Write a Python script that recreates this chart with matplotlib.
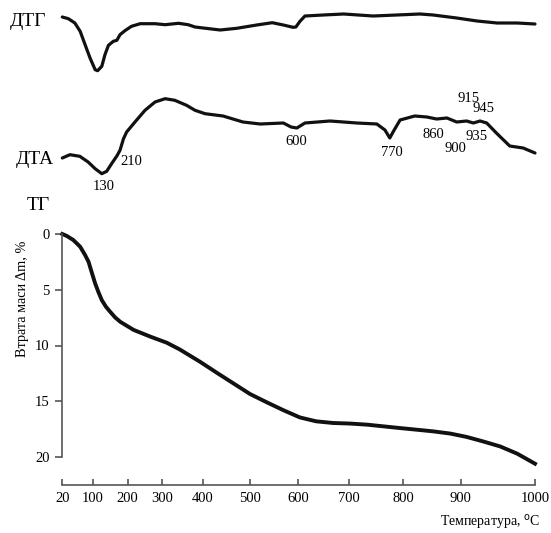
import numpy as np
import matplotlib.pyplot as plt

plt.rcParams['font.family'] = ['Liberation Serif', 'DejaVu Serif']

# temperature ticks of the TG axis
temp_ticks = [20, 100, 200, 300, 400, 500, 600, 700, 800, 900, 1000]

# TG: mass loss, %
tg_temp = [20, 32, 49, 67, 80, 89, 97, 107, 116, 126, 138, 150, 164, 179,
           217, 265, 311, 343, 393, 430, 465, 500, 535, 569, 603, 635, 668,
           701, 733, 763, 793, 823, 852, 882, 908, 930, 953, 976, 1000]
tg_loss = [0, 0.18, 0.54, 1.14, 1.89, 2.49, 3.39, 4.43, 5.18, 5.93, 6.53,
           6.98, 7.48, 7.88, 8.6, 9.2, 9.75, 10.35, 11.45, 12.45, 13.4,
           14.35, 15.1, 15.8, 16.45, 16.8, 16.95, 17.0, 17.1, 17.25, 17.4,
           17.55, 17.7, 17.9, 18.2, 18.6, 19.05, 19.7, 20.6]

# DTG, arbitrary units
dtg_temp = [20, 36, 53, 67, 80, 93, 107, 114, 126, 135, 145, 159, 169, 178,
            192, 211, 236, 279, 307, 340, 364, 381, 401, 437, 472, 514, 546,
            569, 589, 595, 603, 613, 649, 689, 744, 788, 829, 852, 893, 922,
            949, 976, 1000]
dtg_signal = [7, 5.3, 1, -7.3, -20.7, -34, -45.7, -46.7, -42.3, -30.7, -21.3,
              -17.3, -16.3, -10.7, -6.7, -2.3, 0.3, 0.3, -0.7, 0.7, -0.7, -3,
              -4, -6, -4.3, -1, 1.3, -1, -3.3, -3, 2.5, 8, 9, 10, 8, 9, 10, 9,
              6, 3, 1, 1, 0]

# DTA, arbitrary units
dta_temp = [20, 40, 66, 88, 107, 126, 140, 154, 169, 178, 188, 197, 221, 250,
            279, 307, 331, 360, 381, 405, 443, 485, 521, 569, 585, 597, 613,
            662, 714, 751, 766, 775, 781, 794, 820, 841, 858, 876, 893, 908,
            917, 926, 935, 948, 966, 984, 1000]
dta_signal = [-35, -31.7, -33.3, -39, -45.7, -50.7, -48.3, -40.7, -33, -27.3,
              -15.7, -9, 1, 12.7, 21, 24.3, 22.7, 17.7, 12.7, 9.3, 7, 1, -1,
              0, -4, -5, 0, 2, 0, -1, -7, -15, -9, 3, 7, 6, 4, 5, 1, 2, 0, 2,
              0, -10, -23, -25, -30]

peak_labels = ['130', '210', '600', '770', '860', '900', '915', '935', '945']

# non-linear temperature axis of the original record (pixel positions of ticks)
SCALE_T = temp_ticks + [1100]
SCALE_POS = [62.3, 92.7, 127.7, 162.3, 202.7, 250, 298.3, 349.3, 403.3,
             460.7, 535, 609.3]


def fwd(t):
    return np.interp(t, SCALE_T, SCALE_POS)


def inv(p):
    return np.interp(p, SCALE_POS, SCALE_T)


W, H = 551, 533


def box(x0, y0, x1, y1):
    return [x0 / W, 1 - y1 / H, (x1 - x0) / W, (y1 - y0) / H]


def px(x, y):
    return x / W, 1 - y / H


fig = plt.figure(figsize=(W / 100, H / 100), dpi=100)
line_kw = dict(color='#111111', lw=2.3, solid_capstyle='round',
               solid_joinstyle='round', clip_on=False)

# DTG
ax1 = fig.add_axes(box(62.3, 5, 535, 80))
ax1.set_xscale('function', functions=(fwd, inv))
ax1.plot(dtg_temp, dtg_signal, **line_kw)
ax1.set_xlim(20, 1000)
ax1.set_ylim(-56, 19)
ax1.axis('off')

# DTA
ax2 = fig.add_axes(box(62.3, 90, 535, 180))
ax2.set_xscale('function', functions=(fwd, inv))
ax2.plot(dta_temp, dta_signal, **line_kw)
ax2.set_xlim(20, 1000)
ax2.set_ylim(-57, 33)
ax2.axis('off')

# TG
ax3 = fig.add_axes(box(62.3, 234, 535, 457))
ax3.set_xscale('function', functions=(fwd, inv))
ax3.plot(tg_temp, tg_loss, color='#111111', lw=2.8, solid_joinstyle='round',
         clip_on=False)
ax3.set_xlim(20, 1000)
ax3.set_ylim(20, 0)
ax3.set_xticks(temp_ticks)
ax3.set_xticklabels([str(t) for t in temp_ticks])
ax3.set_yticks([0, 5, 10, 15, 20])
ax3.minorticks_off()
for s in ['top', 'right']:
    ax3.spines[s].set_visible(False)
for s in ['left', 'bottom']:
    ax3.spines[s].set_color('#555555')
    ax3.spines[s].set_linewidth(1.2)
ax3.spines['bottom'].set_position(('outward', 20))
ax3.tick_params(axis='x', direction='in', length=4, width=1.2,
                color='#555555', labelsize=10.5, pad=5)
ax3.tick_params(axis='y', direction='out', length=5, width=1.2,
                color='#555555', labelsize=10.5, pad=4)

# texts
fig.text(*px(28, 21), 'ДТГ', fontsize=14, ha='center', va='center')
fig.text(*px(35, 159), 'ДТА', fontsize=14, ha='center', va='center')
fig.text(*px(38, 205), 'ТГ', fontsize=14, ha='center', va='center')
fig.text(*px(23, 299), 'Втрата маси Δm, %', fontsize=10.3, rotation=90,
         ha='center', va='center')
fig.text(*px(490, 522), 'Температура, $^{\\rm o}$C', fontsize=10,
         ha='center', va='center')

label_pos = [(103.3, 186), (131.7, 161.7), (296.7, 141.7), (391.7, 152.7),
             (433.3, 135), (455, 148.3), (468.3, 98.3), (476.7, 136.7),
             (483.3, 108.3)]
for lab, (x, y) in zip(peak_labels, label_pos):
    fig.text(*px(x, y), lab, fontsize=10.5, ha='center', va='center')

fig.savefig('out.png', dpi=100)
